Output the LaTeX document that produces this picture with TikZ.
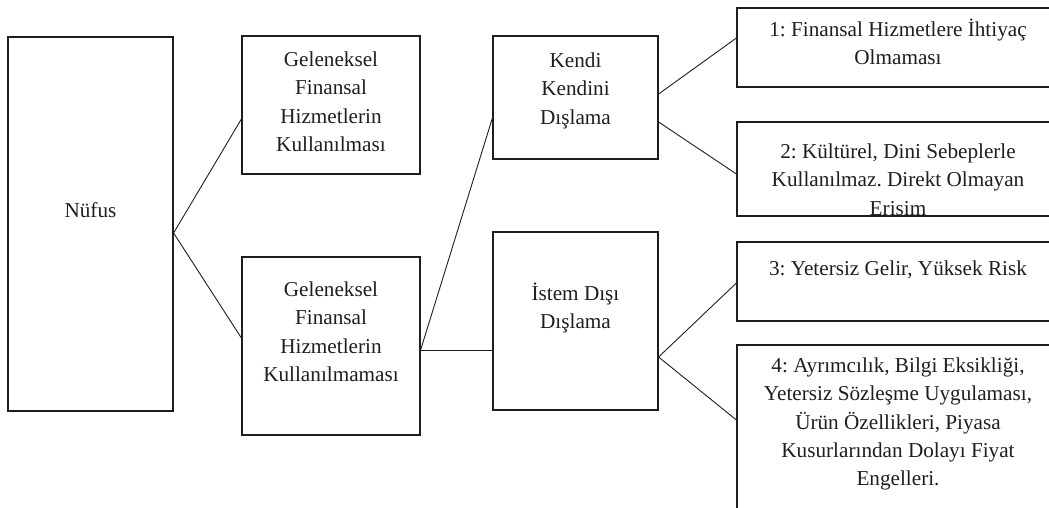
\documentclass[tikz,border=0pt]{standalone}
\usepackage{fontspec}
\setmainfont{Liberation Serif}
\usetikzlibrary{positioning}
\frenchspacing
\definecolor{nufusInk}{HTML}{1E1E1E}
\tikzset{
  nufusbox/.style={draw=nufusInk,line width=0.6pt,inner sep=0pt},
  nufustext/.style={align=center,inner sep=0pt,anchor=north,text=nufusInk,
    font=\fontsize{10.6}{14.15}\selectfont},
  nufusline/.style={draw=nufusInk,line width=0.45pt}
}

\begin{document}
\begin{tikzpicture}[x=0.5pt,y=-0.5pt]
  \useasboundingbox (0,0) rectangle (1049,508);
  \clip (0,0) rectangle (1049,508);
  % boxes
  \node[nufusbox,minimum width=82.5pt,minimum height=187pt] (nufus) at (90.5,224) {};
  \node[nufusbox,minimum width=89pt,minimum height=69pt] (kullanim) at (331,105) {};
  \node[nufusbox,minimum width=89pt,minimum height=89pt] (kullanmama) at (331,346) {};
  \node[nufusbox,minimum width=82.5pt,minimum height=61.5pt] (kendi) at (575.5,97.5) {};
  \node[nufusbox,minimum width=82.5pt,minimum height=89pt] (istem) at (575.5,321) {};
  \node[nufusbox,minimum width=161pt,minimum height=39.5pt] (ihtiyac) at (898,47.5) {};
  \node[nufusbox,minimum width=161pt,minimum height=47pt] (kulturel) at (898,169) {};
  \node[nufusbox,minimum width=161pt,minimum height=39.5pt] (gelir) at (898,281.5) {};
  \node[nufusbox,minimum width=161pt,minimum height=87.5pt] (ayrimcilik) at (898,432.5) {};
  % texts
  \node[nufustext] (nufustxt) at (90.5,197.2) {\strut Nüfus};
  \node[nufustext] (kullanimtxt) at (331,46.2) {\strut Geleneksel\\Finansal\\Hizmetlerin\\Kullanılması};
  \node[nufustext] (kullanmamatxt) at (331,276.2) {\strut Geleneksel\\Finansal\\Hizmetlerin\\Kullanılmaması};
  \node[nufustext] (kenditxt) at (575.5,47.2) {\strut Kendi\\Kendini\\Dışlama};
  \node[nufustext] (istemtxt) at (575.5,280.2) {\strut İstem Dışı\\Dışlama};
  \node[nufustext] (ihtiyactxt) at (898,16.2) {\strut 1: Finansal Hizmetlere İhtiyaç\\Olmaması};
  \begin{scope}
    \clip (737,122) rectangle (1059,216);
    \node[nufustext] (kulturetxt) at (898,138.2) {\strut 2: Kültürel, Dini Sebeplerle\\Kullanılmaz. Direkt Olmayan\\Erisim};
  \end{scope}
  \node[nufustext] (gelirtxt) at (898,255.2) {\strut 3: Yetersiz Gelir, Yüksek Risk};
  \node[nufustext] (ayrimciliktxt) at (898,352.2) {\strut 4: Ayrımcılık, Bilgi Eksikliği,\\Yetersiz Sözleşme Uygulaması,\\Ürün Özellikleri, Piyasa\\Kusurlarından Dolayı Fiyat\\Engelleri.};
  % connectors
  \draw[nufusline] ([yshift=-4.5pt]nufus.east) -- ([yshift=-7pt]kullanim.west);
  \draw[nufusline] ([yshift=-4.5pt]nufus.east) -- ([yshift=4pt]kullanmama.west);
  \draw[nufusline] ([yshift=-2pt]kullanmama.east) -- ([yshift=-10.25pt]kendi.west);
  \draw[nufusline] ([yshift=-2pt]kullanmama.east) -- ([yshift=-14.5pt]istem.west);
  \draw[nufusline] ([yshift=1.75pt]kendi.east) -- ([yshift=4.75pt]ihtiyac.west);
  \draw[nufusline] ([yshift=-12.25pt]kendi.east) -- ([yshift=-2.5pt]kulturel.west);
  \draw[nufusline] ([yshift=-18pt]istem.east) -- ([yshift=-0.75pt]gelir.west);
  \draw[nufusline] ([yshift=-18pt]istem.east) -- ([yshift=6.25pt]ayrimcilik.west);
\end{tikzpicture}
\end{document}
